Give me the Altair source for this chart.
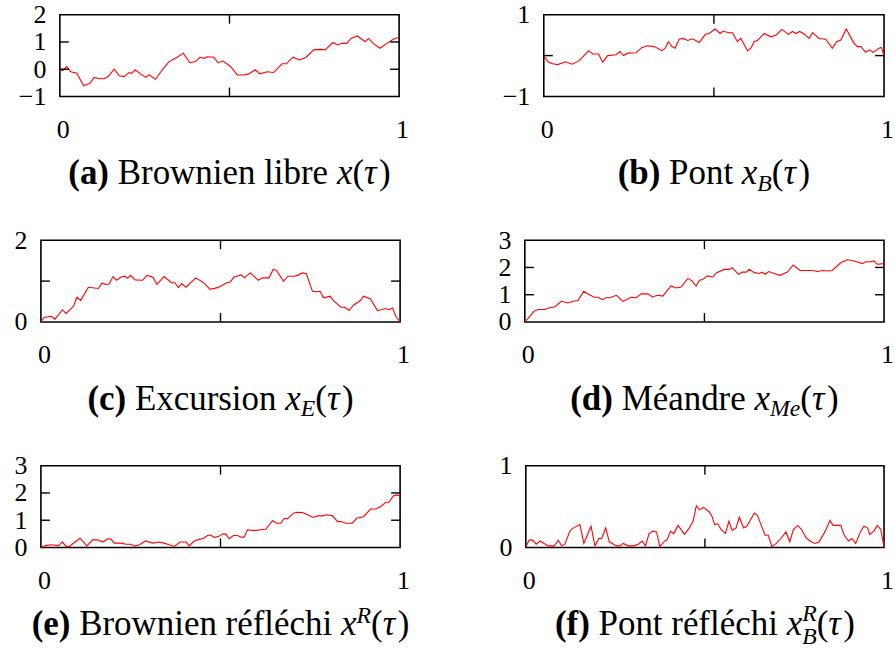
import altair as alt
import pandas as pd

# ---------------------------------------------------------------
# Sample paths: time tau in [0, 1] and the value of each process
# ---------------------------------------------------------------
TAU_A = [0, 0.008, 0.020, 0.032, 0.050, 0.070, 0.089, 0.101, 0.116, 0.130,
         0.142, 0.160, 0.175, 0.189, 0.204, 0.211, 0.222, 0.238, 0.253, 0.263,
         0.282, 0.302, 0.322, 0.346, 0.364, 0.383, 0.400, 0.413, 0.425, 0.434,
         0.454, 0.466, 0.481, 0.503, 0.523, 0.542, 0.557, 0.576, 0.589, 0.611,
         0.630, 0.655, 0.668, 0.687, 0.707, 0.726, 0.748, 0.768, 0.782, 0.805,
         0.819, 0.831, 0.846, 0.858, 0.877, 0.900, 0.910, 0.925, 0.944, 0.964,
         0.983, 1.0]
VAL_A = [0, -0.06, 0.1, -0.09, -0.15, -0.61, -0.51, -0.3, -0.35, -0.35,
         -0.27, 0.0, -0.24, -0.27, -0.12, -0.15, -0.02, -0.17, -0.3, -0.2,
         -0.37, -0.02, 0.28, 0.44, 0.59, 0.24, 0.28, 0.44, 0.4, 0.46,
         0.44, 0.24, 0.3, 0.1, -0.21, -0.21, -0.17, -0.02, -0.17, -0.09,
         -0.12, 0.2, 0.2, 0.44, 0.34, 0.44, 0.71, 0.73, 0.71, 0.98,
         0.89, 0.95, 0.95, 1.13, 1.22, 1.01, 1.13, 0.93, 0.77, 0.95,
         1.1, 1.17]

TAU_B = [0, 0.012, 0.026, 0.041, 0.064, 0.083, 0.103, 0.116, 0.132, 0.144,
         0.161, 0.173, 0.188, 0.212, 0.224, 0.234, 0.247, 0.271, 0.289, 0.305,
         0.325, 0.347, 0.357, 0.366, 0.377, 0.386, 0.398, 0.410, 0.423, 0.437,
         0.457, 0.475, 0.486, 0.504, 0.518, 0.527, 0.543, 0.555, 0.569, 0.579,
         0.599, 0.609, 0.618, 0.628, 0.648, 0.667, 0.682, 0.700, 0.719, 0.731,
         0.741, 0.752, 0.765, 0.780, 0.790, 0.809, 0.829, 0.848, 0.861, 0.873,
         0.889, 0.912, 0.922, 0.932, 0.946, 0.958, 0.968, 0.985, 0.992, 1.0]
VAL_B = [0, -0.15, -0.2, -0.22, -0.15, -0.21, -0.13, -0.02, 0.12, 0.04,
         0.04, -0.16, 0, 0.02, 0.1, 0, 0.06, 0.07, 0.2, 0.24,
         0.22, 0.12, 0.18, 0.34, 0.22, 0.18, 0.4, 0.42, 0.37, 0.41,
         0.32, 0.52, 0.54, 0.65, 0.54, 0.6, 0.56, 0.56, 0.34, 0.42,
         0.12, 0.18, 0.34, 0.37, 0.54, 0.46, 0.5, 0.64, 0.52, 0.59,
         0.54, 0.59, 0.53, 0.42, 0.56, 0.42, 0.4, 0.18, 0.34, 0.38,
         0.65, 0.3, 0.22, 0.22, 0.08, 0.14, 0.08, 0.18, 0.2, 0.0]

TAU_C = [0, 0.009, 0.028, 0.039, 0.060, 0.070, 0.091, 0.100, 0.111, 0.132,
         0.160, 0.170, 0.181, 0.190, 0.201, 0.211, 0.223, 0.234, 0.241, 0.250,
         0.262, 0.283, 0.295, 0.311, 0.323, 0.343, 0.364, 0.373, 0.383, 0.392,
         0.404, 0.431, 0.453, 0.471, 0.492, 0.518, 0.527, 0.538, 0.558, 0.566,
         0.583, 0.605, 0.617, 0.635, 0.647, 0.657, 0.675, 0.688, 0.705, 0.714,
         0.728, 0.739, 0.756, 0.768, 0.777, 0.787, 0.805, 0.816, 0.835, 0.846,
         0.858, 0.870, 0.889, 0.898, 0.917, 0.937, 0.948, 0.960, 0.969, 0.979,
         0.988, 1.0]
VAL_C = [0, 0.11, 0.14, 0.07, 0.3, 0.21, 0.39, 0.61, 0.53, 0.85,
         0.82, 0.95, 0.92, 0.93, 1.11, 1.02, 1.1, 1.12, 1.07, 1.14,
         1.03, 1.02, 1.14, 1.1, 0.92, 1.11, 0.96, 0.96, 0.84, 0.94,
         0.85, 1.08, 0.96, 0.8, 0.84, 0.96, 0.98, 1.1, 1.15, 1.08,
         1.2, 1.02, 1.08, 1.08, 1.29, 1.25, 1.0, 1.12, 1.12, 1.14,
         1.2, 1.18, 0.75, 0.74, 0.75, 0.59, 0.63, 0.51, 0.36, 0.36,
         0.28, 0.41, 0.52, 0.63, 0.57, 0.28, 0.3, 0.33, 0.3, 0.34,
         0.14, 0.0]

TAU_D = [0, 0.014, 0.025, 0.037, 0.056, 0.069, 0.083, 0.102, 0.120, 0.134,
         0.148, 0.164, 0.176, 0.193, 0.204, 0.216, 0.225, 0.236, 0.255, 0.273,
         0.296, 0.310, 0.324, 0.343, 0.355, 0.370, 0.384, 0.407, 0.421, 0.435,
         0.454, 0.466, 0.477, 0.486, 0.495, 0.509, 0.523, 0.534, 0.556, 0.569,
         0.577, 0.595, 0.606, 0.616, 0.625, 0.639, 0.653, 0.660, 0.669, 0.679,
         0.694, 0.710, 0.731, 0.747, 0.766, 0.787, 0.801, 0.815, 0.829, 0.843,
         0.856, 0.880, 0.898, 0.917, 0.940, 0.949, 0.963, 0.972, 0.981, 1.0]
VAL_D = [0, 0.21, 0.39, 0.46, 0.46, 0.52, 0.55, 0.76, 0.7, 0.76,
         0.79, 1.13, 1.03, 0.91, 0.91, 0.82, 0.89, 0.89, 0.98, 0.76,
         0.91, 0.89, 1.03, 1.03, 0.92, 0.98, 0.95, 1.32, 1.25, 1.28,
         1.6, 1.5, 1.32, 1.53, 1.56, 1.69, 1.65, 1.81, 1.93, 1.93,
         1.99, 1.75, 1.83, 1.83, 1.93, 1.81, 1.78, 1.83, 1.75, 1.85,
         1.78, 1.71, 1.83, 2.09, 1.89, 1.89, 1.89, 1.85, 1.89, 1.87,
         1.89, 2.18, 2.28, 2.24, 2.14, 2.21, 2.21, 2.24, 2.12, 2.14]

TAU_E = [0, 0.014, 0.028, 0.048, 0.060, 0.070, 0.079, 0.097, 0.109, 0.128,
         0.144, 0.158, 0.172, 0.186, 0.195, 0.204, 0.223, 0.237, 0.250, 0.262,
         0.274, 0.292, 0.311, 0.329, 0.343, 0.357, 0.371, 0.388, 0.404, 0.413,
         0.425, 0.436, 0.453, 0.464, 0.473, 0.482, 0.494, 0.506, 0.515, 0.524,
         0.536, 0.547, 0.558, 0.566, 0.575, 0.594, 0.612, 0.626, 0.645, 0.657,
         0.668, 0.677, 0.686, 0.703, 0.714, 0.728, 0.742, 0.758, 0.770, 0.784,
         0.796, 0.812, 0.826, 0.835, 0.849, 0.867, 0.879, 0.898, 0.918, 0.932,
         0.946, 0.960, 0.969, 0.981, 0.991, 1.0]
VAL_E = [0, 0.07, 0.1, 0.07, 0.2, 0.04, 0.04, 0.22, 0.34, 0.06,
         0.28, 0.28, 0.2, 0.32, 0.31, 0.16, 0.16, 0.12, 0.12, 0.05,
         0.1, 0.24, 0.16, 0.2, 0.16, 0.1, 0.04, 0.2, 0.2, 0.06,
         0.22, 0.28, 0.34, 0.44, 0.46, 0.37, 0.4, 0.5, 0.49, 0.32,
         0.44, 0.44, 0.38, 0.38, 0.65, 0.62, 0.65, 0.67, 0.98, 0.89,
         0.89, 1.07, 1.05, 1.26, 1.29, 1.28, 1.2, 1.1, 1.16, 1.16,
         1.2, 1.16, 0.95, 0.95, 0.89, 0.89, 1.07, 1.13, 1.41, 1.41,
         1.5, 1.66, 1.66, 1.89, 1.93, 1.89]

TAU_F = [0, 0.009, 0.019, 0.029, 0.040, 0.058, 0.063, 0.079, 0.091, 0.100,
         0.109, 0.123, 0.133, 0.151, 0.162, 0.182, 0.193, 0.204, 0.212, 0.223,
         0.233, 0.253, 0.263, 0.272, 0.286, 0.301, 0.314, 0.325, 0.334, 0.344,
         0.355, 0.365, 0.374, 0.388, 0.394, 0.404, 0.413, 0.425, 0.443, 0.455,
         0.467, 0.476, 0.485, 0.496, 0.511, 0.520, 0.527, 0.536, 0.545, 0.557,
         0.567, 0.576, 0.587, 0.596, 0.608, 0.617, 0.626, 0.638, 0.647, 0.660,
         0.668, 0.677, 0.687, 0.699, 0.712, 0.726, 0.737, 0.747, 0.759, 0.770,
         0.782, 0.796, 0.808, 0.819, 0.836, 0.849, 0.858, 0.879, 0.889, 0.901,
         0.910, 0.921, 0.935, 0.944, 0.954, 0.960, 0.972, 0.981, 0.991, 1.0]
VAL_F = [0, 0.09, 0.09, 0.04, 0.08, 0.03, 0.02, 0.02, 0.09, 0.02,
         0.04, 0.2, 0.24, 0.28, 0.05, 0.26, 0.02, 0.11, 0.11, 0.24,
         0.07, 0.02, 0.02, 0.05, 0.02, 0.02, 0.04, 0.08, 0.02, 0.17,
         0.2, 0.19, 0.01, 0.08, 0.09, 0.2, 0.17, 0.27, 0.16, 0.23,
         0.32, 0.51, 0.46, 0.49, 0.44, 0.38, 0.28, 0.29, 0.22, 0.17,
         0.32, 0.21, 0.24, 0.37, 0.24, 0.26, 0.33, 0.42, 0.39, 0.24,
         0.15, 0.15, 0.01, 0.05, 0.11, 0.19, 0.07, 0.22, 0.27, 0.22,
         0.12, 0.07, 0.05, 0.07, 0.2, 0.33, 0.27, 0.27, 0.15, 0.08,
         0.11, 0.05, 0.2, 0.26, 0.24, 0.16, 0.2, 0.27, 0.22, 0.0]

# axis tick positions
X_LABELS = [0, 1]
X_INNER_TICKS = [0.5]

# captions: (text, kind); kind is bold / reg / ital, or a script:
# sub / sup alone, sub2 / sup2 stacked on the same symbol
CAPTIONS = {
    "a": [("(a)", "bold"), (" Brownien libre ", "reg"), ("x", "ital"),
          ("(", "reg"), ("τ", "ital"), (")", "reg")],
    "b": [("(b)", "bold"), (" Pont ", "reg"), ("x", "ital"), ("B", "sub"),
          ("(", "reg"), ("τ", "ital"), (")", "reg")],
    "c": [("(c)", "bold"), (" Excursion ", "reg"), ("x", "ital"), ("E", "sub"),
          ("(", "reg"), ("τ", "ital"), (")", "reg")],
    "d": [("(d)", "bold"), (" Méandre ", "reg"), ("x", "ital"), ("Me", "sub"),
          ("(", "reg"), ("τ", "ital"), (")", "reg")],
    "e": [("(e)", "bold"), (" Brownien réfléchi ", "reg"), ("x", "ital"),
          ("R", "sup"), ("(", "reg"), ("τ", "ital"), (")", "reg")],
    "f": [("(f)", "bold"), (" Pont réfléchi ", "reg"), ("x", "ital"),
          ("B", "sub2"), ("R", "sup2"), ("(", "reg"), ("τ", "ital"), (")", "reg")],
}

PANELS = {
    "a": dict(tau=TAU_A, val=VAL_A, ylim=(-1, 2), ylabels=[-1, 0, 1, 2], yticks=[0, 1]),
    "b": dict(tau=TAU_B, val=VAL_B, ylim=(-1, 1), ylabels=[-1, 0, 1], yticks=[0]),
    "c": dict(tau=TAU_C, val=VAL_C, ylim=(0, 2), ylabels=[0, 1, 2], yticks=[1]),
    "d": dict(tau=TAU_D, val=VAL_D, ylim=(0, 3), ylabels=[0, 1, 2, 3], yticks=[1, 2]),
    "e": dict(tau=TAU_E, val=VAL_E, ylim=(0, 3), ylabels=[0, 1, 2, 3], yticks=[1, 2]),
    "f": dict(tau=TAU_F, val=VAL_F, ylim=(0, 1), ylabels=[0, 1], yticks=[]),
}

# ---------------------------------------------------------------
# Styling / layout
# ---------------------------------------------------------------
RED = "#ff0000"
SERIF = "Liberation Serif"
TICK_FS = 26
CAP_FS = 35
SCRIPT = 0.68
PLOT_H = 82
TICK_LEN = 9
CAP_BASE = 170          # caption baseline, below the top of the frame
SCRIPT_DY = {"sub": 0.18, "sup": -0.36, "sub2": 0.26, "sup2": -0.42}

# Liberation Serif advance widths (per 1000 em)
W_REG = {" ": 250, "(": 333, ")": 333, "B": 667, "E": 611, "M": 889, "P": 556,
         "R": 667, "a": 444, "b": 500, "c": 444, "d": 500, "e": 444, "é": 444,
         "f": 333, "h": 500, "i": 278, "l": 278, "n": 500, "o": 500, "r": 333,
         "s": 389, "t": 278, "u": 500, "w": 722, "x": 500}
W_BOLD = {" ": 250, "(": 333, ")": 333, "a": 500, "b": 556, "c": 444, "d": 556,
          "e": 444, "f": 333}
W_ITAL = {"x": 444, "B": 611, "E": 611, "M": 833, "e": 444, "R": 611, "τ": 430}


def text_w(s, table, size):
    return sum(table.get(ch, 500) for ch in s) * size / 1000.0


def caption_layers(pieces, center):
    """Lay the caption pieces out left to right and centre them."""
    placed = []
    cur = 0.0
    script_start = None
    for text, kind in pieces:
        if kind in SCRIPT_DY:
            size = CAP_FS * SCRIPT
            w = text_w(text, W_ITAL, size)
            dy = CAP_FS * SCRIPT_DY[kind]
            if kind == "sup2" and script_start is not None:
                start = script_start
                cur = max(cur, start + w)
            else:
                start = cur
                cur += w
            script_start = start
            placed.append((text, start, dy, size, "italic", "normal"))
            continue
        script_start = None
        table = {"bold": W_BOLD, "reg": W_REG, "ital": W_ITAL}[kind]
        lead = len(text) - len(text.lstrip(" "))
        body = text.strip(" ")
        trail = len(text) - lead - len(body)
        cur += text_w(" " * lead, table, CAP_FS)
        placed.append((body, cur, 0.0, CAP_FS,
                       "italic" if kind == "ital" else "normal",
                       "bold" if kind == "bold" else "normal"))
        cur += text_w(body, table, CAP_FS) + text_w(" " * trail, table, CAP_FS)
    left = center - cur / 2.0
    layers = []
    for body, start, dy, size, style, weight in placed:
        layers.append(
            alt.Chart(pd.DataFrame({"s": [body]}))
            .mark_text(align="left", baseline="alphabetic", font=SERIF,
                       fontSize=size, fontStyle=style, fontWeight=weight,
                       color="black")
            .encode(x=alt.value(left + start), y=alt.value(CAP_BASE + dy),
                    text="s:N")
        )
    return layers


def panel(key, width, extent):
    p = PANELS[key]
    assert len(p["tau"]) == len(p["val"])
    df = pd.DataFrame({"tau": p["tau"], "x": p["val"]})
    xs = alt.Scale(domain=[0, 1], nice=False, zero=False)
    ys = alt.Scale(domain=list(p["ylim"]), nice=False, zero=False)
    x_axis = alt.Axis(values=X_LABELS, format="d", title=None, ticks=False,
                      domain=False, grid=False, labelFont=SERIF,
                      labelFontSize=TICK_FS, labelColor="black",
                      labelPadding=20, labelOffset=3, labelFlush=False,
                      labelOverlap=False)
    y_axis = alt.Axis(values=p["ylabels"], format="d", title=None, ticks=False,
                      domain=False, grid=False, labelFont=SERIF,
                      labelFontSize=TICK_FS, labelColor="black",
                      labelPadding=14, labelFlush=False, labelOverlap=False,
                      minExtent=extent, maxExtent=extent,
                      labelExpr="replace(datum.label, '-', '\u2212')")

    line = alt.Chart(df).mark_line(color=RED, strokeWidth=1.1).encode(
        x=alt.X("tau:Q", scale=xs, axis=x_axis),
        y=alt.Y("x:Q", scale=ys, axis=y_axis),
    )
    layers = [line]

    xt = pd.DataFrame({"t": X_INNER_TICKS})
    for y0, y1 in ((0, TICK_LEN), (PLOT_H, PLOT_H - TICK_LEN)):
        layers.append(
            alt.Chart(xt).mark_rule(color="black", strokeWidth=1.4).encode(
                x=alt.X("t:Q", scale=xs, axis=x_axis),
                y=alt.value(y0), y2=alt.value(y1))
        )
    if p["yticks"]:
        yt = pd.DataFrame({"t": p["yticks"]})
        for x0, x1 in ((0, TICK_LEN), (width, width - TICK_LEN)):
            layers.append(
                alt.Chart(yt).mark_rule(color="black", strokeWidth=1.4).encode(
                    y=alt.Y("t:Q", scale=ys, axis=y_axis),
                    x=alt.value(x0), x2=alt.value(x1))
            )
    layers += caption_layers(CAPTIONS[key], width / 2.0)
    return alt.layer(*layers).properties(width=width, height=PLOT_H)


# blank indent so that the first row sits further right than the others
indent = (
    alt.Chart(pd.DataFrame({"k": [0]}))
    .mark_point(opacity=0)
    .encode(x=alt.value(0), y=alt.value(0))
    .properties(width=19, height=PLOT_H,
                view=alt.ViewBackground(stroke="transparent"))
)

row1 = alt.hconcat(
    indent,
    alt.hconcat(panel("a", 340, 40), panel("b", 341, 40),
                spacing=145, bounds="flush"),
    spacing=0, bounds="flush")
row2 = alt.hconcat(panel("c", 360, 40), panel("d", 360, 40),
                   spacing=125, bounds="flush")
row3 = alt.hconcat(panel("e", 360, 40), panel("f", 359, 40),
                   spacing=126, bounds="flush")

chart = (
    alt.vconcat(row1, row2, row3, spacing=30)
    .properties(padding={"left": 0, "top": 0, "right": 0, "bottom": 0},
                background="white")
    .configure_view(stroke="black", strokeWidth=1.6)
)

chart.save("out.html", embed_options={"renderer": "svg", "actions": False})
